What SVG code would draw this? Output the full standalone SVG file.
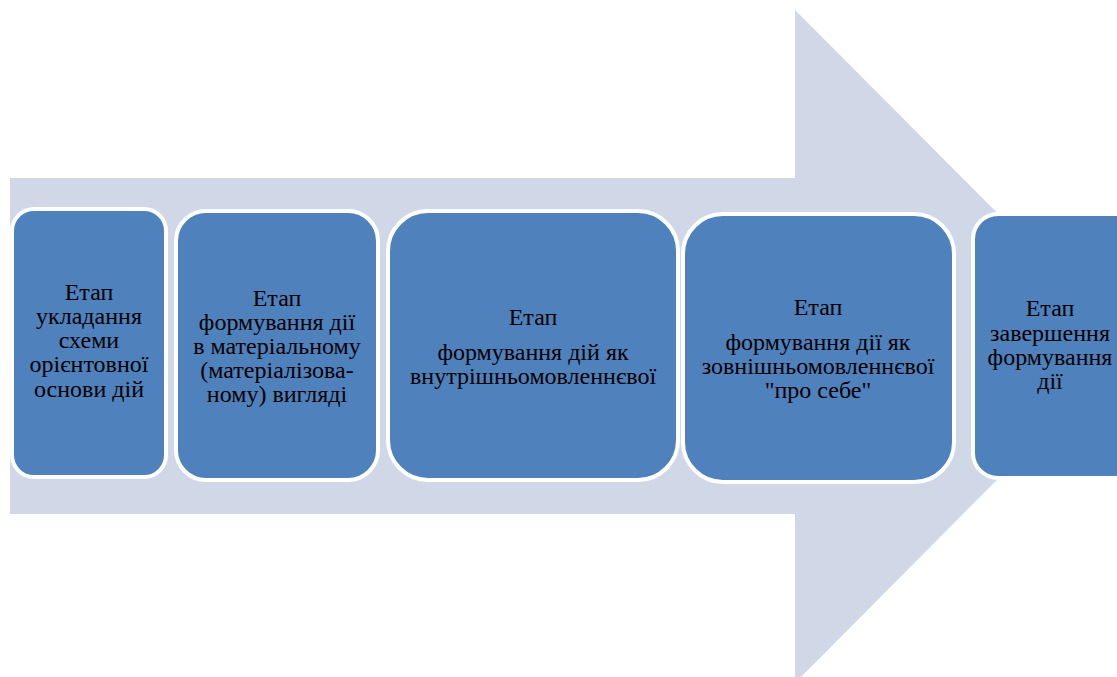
<svg xmlns="http://www.w3.org/2000/svg" width="1117" height="677" viewBox="0 0 1117 677">
  <style>
    .stage { fill: #4F81BD; stroke: #FFFFFF; stroke-width: 4; }
    .label { font-family: "Liberation Serif", "Times New Roman", "DejaVu Serif", serif; font-size: 24px; fill: #000000; text-anchor: middle; }
  </style>
  <rect width="1117" height="677" fill="#FFFFFF"/>
  <!-- background process arrow -->
  <g id="arrow">
    <polygon points="10,178 795,178 795,10 1130,346 795,683 795,514 10,514" fill="#D0D8E8"/>
  </g>
  <g id="connectors"/>
  <g id="stage1">
    <rect class="stage" x="12" y="209" width="154" height="268" rx="22"/>
    <text class="label" x="89" y="300">Етап</text>
    <text class="label" x="89" y="324">укладання</text>
    <text class="label" x="89" y="348">схеми</text>
    <text class="label" x="89" y="372">орієнтовної</text>
    <text class="label" x="89" y="397">основи дій</text>
  </g>
  <g id="stage2">
    <rect class="stage" x="176" y="211" width="202" height="269" rx="30"/>
    <text class="label" x="277" y="306">Етап</text>
    <text class="label" x="277" y="330">формування дії</text>
    <text class="label" x="277" y="354">в матеріальному</text>
    <text class="label" x="277" y="378">(матеріалізова-</text>
    <text class="label" x="277" y="402">ному) вигляді</text>
  </g>
  <g id="stage3">
    <rect class="stage" x="388" y="211" width="290" height="269" rx="40"/>
    <text class="label" x="533" y="325">Етап</text>
    <text class="label" x="533" y="360">формування дій як</text>
    <text class="label" x="533" y="384">внутрішньомовленнєвої</text>
  </g>
  <g id="stage4">
    <rect class="stage" x="683" y="214" width="271" height="268" rx="40"/>
    <text class="label" x="818" y="315">Етап</text>
    <text class="label" x="818" y="350">формування дії як</text>
    <text class="label" x="818" y="374">зовнішньомовленнєвої</text>
    <text class="label" x="818" y="398">"про себе"</text>
  </g>
  <g id="stage5">
    <rect class="stage" x="973" y="214" width="170" height="264" rx="25"/>
    <text class="label" x="1050" y="316">Етап</text>
    <text class="label" x="1050" y="341">завершення</text>
    <text class="label" x="1050" y="365">формування</text>
    <text class="label" x="1050" y="389">дії</text>
  </g>
</svg>
